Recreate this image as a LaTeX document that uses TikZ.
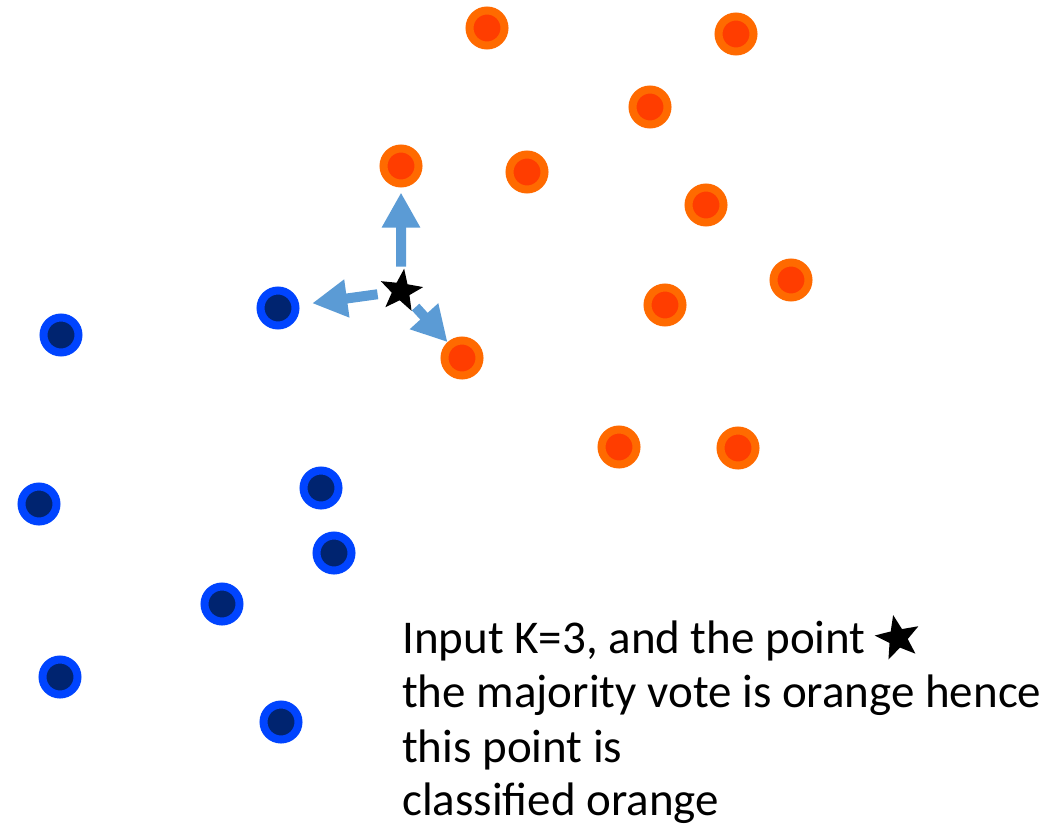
\documentclass[tikz,border=0pt]{standalone}
\usepackage{fontspec}
\setmainfont{Carlito}
\usetikzlibrary{shapes.geometric,arrows.meta}
\definecolor{orout}{HTML}{FF6A00}
\definecolor{orin}{HTML}{FF3D00}
\definecolor{blout}{HTML}{0044FF}
\definecolor{blin}{HTML}{002470}
\definecolor{arrblue}{HTML}{5B9BD5}
\tikzset{
  dot/.style={circle,inner sep=0pt,minimum size=35pt,line width=8pt},
  odot/.style={dot,draw=orout,fill=orin},
  bdot/.style={dot,draw=blout,fill=blin},
  starmark/.style={star,star points=5,star point ratio=2.4,fill=black,inner sep=0pt,outer sep=0pt,minimum size=#1},
  blockarrow/.style={draw=arrblue,line width=10pt,-{Triangle[width=36pt,length=35pt]}},
  txt/.style={anchor=base west,inner sep=0pt,font=\fontsize{47pt}{54pt}\selectfont}
}
\begin{document}
\begin{tikzpicture}[x=1pt,y=-1pt]
\useasboundingbox (0,0) rectangle (1059,832);
% orange points
\node[odot] (o1) at (487,28) {};
\node[odot] (o2) at (736,34) {};
\node[odot] (o3) at (650,107) {};
\node[odot] (o4) at (401,166) {};
\node[odot] (o5) at (527,172) {};
\node[odot] (o6) at (706,205) {};
\node[odot] (o7) at (791,280) {};
\node[odot] (o8) at (665,305) {};
\node[odot] (o9) at (462,358) {};
\node[odot] (o10) at (619,447) {};
\node[odot] (o11) at (738,448) {};
% blue points
\node[bdot] (b1) at (61,335) {};
\node[bdot] (b2) at (278,308) {};
\node[bdot] (b3) at (39,504) {};
\node[bdot] (b4) at (321,488) {};
\node[bdot] (b5) at (334,553) {};
\node[bdot] (b6) at (222,604) {};
\node[bdot] (b7) at (60,677) {};
\node[bdot] (b8) at (281,722) {};
% query star
\node[starmark=45pt,rotate=-8] (q) at (401,291) {};
% arrows to the three nearest neighbours
\draw[blockarrow,shorten <=8pt,shorten >=5pt] (q) -- (o4);
\draw[blockarrow,shorten <=14pt,shorten >=13pt] (q) -- (b2);
\draw[blockarrow,shorten <=8pt,shorten >=0pt] (q) -- (o9);
% text
\node[txt] (t1) at (402,653) {Input K=3, and the point};
\node[starmark=47pt,rotate=12] (qs) at (898,638) {};
\node[txt] (t2) at (402,707) {the majority vote is orange hence};
\node[txt] (t3) at (402,762) {this point is};
\node[txt] (t4) at (402,815) {classified orange};
\end{tikzpicture}
\end{document}
